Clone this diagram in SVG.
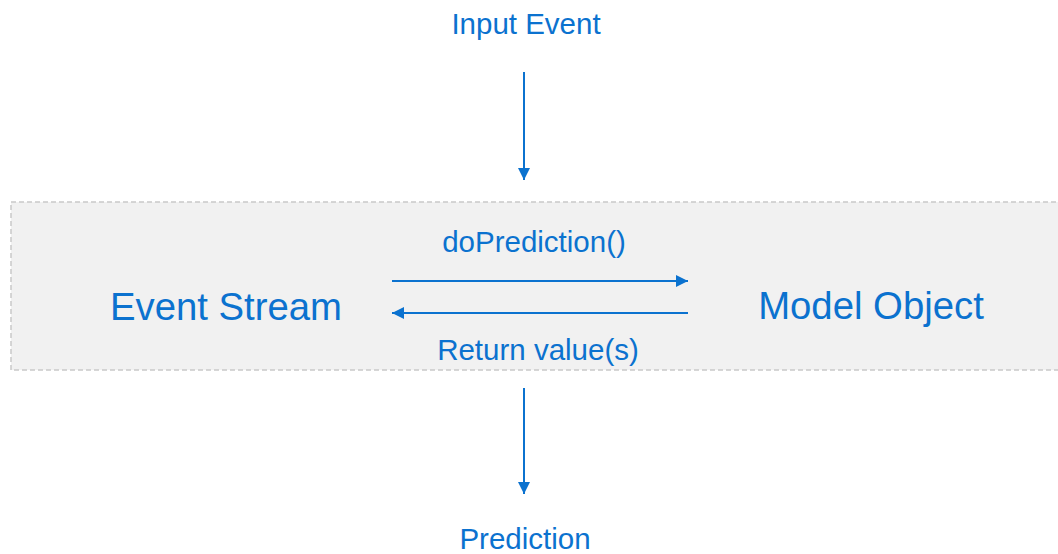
<svg xmlns="http://www.w3.org/2000/svg" width="1058" height="554" viewBox="0 0 1058 554">
<style>
.t{font-family:"Liberation Sans",Arial,sans-serif;fill:#0b72cf;text-anchor:middle}
.s{font-size:29.5px}
.b{font-size:38.3px}
.c{stroke:#0b72cf;stroke-width:2;fill:none}
</style>
<defs>
<marker id="ah" viewBox="0 0 12 12" refX="12" refY="6" markerWidth="12" markerHeight="12" markerUnits="userSpaceOnUse" orient="auto">
<path d="M0,0 L12,6 L0,12 Z" fill="#0b72cf"/>
</marker>
</defs>
<rect width="1058" height="554" fill="#ffffff"/>
<g id="container">
<rect x="11" y="202" width="1060" height="168" fill="#f1f1f1" stroke="#c9c9c9" stroke-width="1.5" stroke-dasharray="5,3"/>
</g>
<g id="input-event"><text class="t s" x="526" y="34">Input Event</text></g>
<g id="event-stream"><text class="t b" x="226" y="320">Event Stream</text></g>
<g id="model-object"><text class="t b" x="871" y="319">Model Object</text></g>
<g id="prediction"><text class="t s" x="525" y="549">Prediction</text></g>
<g id="connectors">
<line class="c" x1="524" y1="72" x2="524" y2="180" marker-end="url(#ah)"/>
<line class="c" x1="392" y1="281" x2="688" y2="281" marker-end="url(#ah)"/>
<line class="c" x1="688" y1="313" x2="392" y2="313" marker-end="url(#ah)"/>
<line class="c" x1="524" y1="388" x2="524" y2="494" marker-end="url(#ah)"/>
<text class="t s" x="534" y="252">doPrediction()</text>
<text class="t s" x="538" y="360">Return value(s)</text>
</g>
</svg>
